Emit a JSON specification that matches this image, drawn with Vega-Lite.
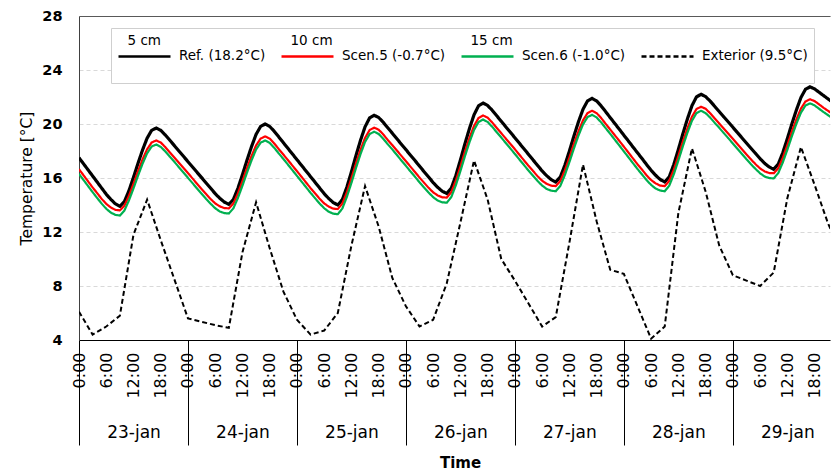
{
  "$schema": "https://vega.github.io/schema/vega-lite/v6.json",
  "width": 751,
  "height": 324,
  "autosize": {"type": "none"},
  "padding": {"left": 79, "top": 16, "right": 1, "bottom": 130},
  "background": "white",
  "config": {"font": "DejaVu Sans", "view": {"stroke": null}},
  "datasets": {
    "inner": [
      {"h":0,"Ref":17.5,"Scen5":16.65,"Scen6":16.3},
      {"h":1,"Ref":17.05,"Scen5":16.2,"Scen6":15.85},
      {"h":2,"Ref":16.6,"Scen5":15.75,"Scen6":15.4},
      {"h":3,"Ref":16.15,"Scen5":15.3,"Scen6":14.95},
      {"h":4,"Ref":15.7,"Scen5":14.88,"Scen6":14.52},
      {"h":5,"Ref":15.25,"Scen5":14.45,"Scen6":14.1},
      {"h":6,"Ref":14.8,"Scen5":14.08,"Scen6":13.72},
      {"h":7,"Ref":14.42,"Scen5":13.82,"Scen6":13.44},
      {"h":8,"Ref":14.09,"Scen5":13.64,"Scen6":13.27},
      {"h":9,"Ref":13.9,"Scen5":13.6,"Scen6":13.22},
      {"h":10,"Ref":14.25,"Scen5":13.95,"Scen6":13.59},
      {"h":11,"Ref":15.06,"Scen5":14.68,"Scen6":14.34},
      {"h":12,"Ref":16.05,"Scen5":15.57,"Scen6":15.23},
      {"h":13,"Ref":17.09,"Scen5":16.51,"Scen6":16.17},
      {"h":14,"Ref":18.08,"Scen5":17.38,"Scen6":17.06},
      {"h":15,"Ref":18.95,"Scen5":18.13,"Scen6":17.83},
      {"h":16,"Ref":19.53,"Scen5":18.63,"Scen6":18.33},
      {"h":17,"Ref":19.7,"Scen5":18.78,"Scen6":18.48},
      {"h":18,"Ref":19.53,"Scen5":18.63,"Scen6":18.31},
      {"h":19,"Ref":19.19,"Scen5":18.29,"Scen6":17.97},
      {"h":20,"Ref":18.8,"Scen5":17.9,"Scen6":17.58},
      {"h":21,"Ref":18.4,"Scen5":17.52,"Scen6":17.2},
      {"h":22,"Ref":18.0,"Scen5":17.13,"Scen6":16.8},
      {"h":23,"Ref":17.61,"Scen5":16.75,"Scen6":16.41},
      {"h":24,"Ref":17.21,"Scen5":16.36,"Scen6":16.01},
      {"h":25,"Ref":16.82,"Scen5":15.97,"Scen6":15.62},
      {"h":26,"Ref":16.42,"Scen5":15.57,"Scen6":15.22},
      {"h":27,"Ref":16.03,"Scen5":15.18,"Scen6":14.83},
      {"h":28,"Ref":15.63,"Scen5":14.81,"Scen6":14.45},
      {"h":29,"Ref":15.24,"Scen5":14.44,"Scen6":14.09},
      {"h":30,"Ref":14.84,"Scen5":14.12,"Scen6":13.76},
      {"h":31,"Ref":14.5,"Scen5":13.9,"Scen6":13.52},
      {"h":32,"Ref":14.22,"Scen5":13.77,"Scen6":13.4},
      {"h":33,"Ref":14.05,"Scen5":13.75,"Scen6":13.37},
      {"h":34,"Ref":14.41,"Scen5":14.11,"Scen6":13.75},
      {"h":35,"Ref":15.24,"Scen5":14.86,"Scen6":14.52},
      {"h":36,"Ref":16.25,"Scen5":15.77,"Scen6":15.43},
      {"h":37,"Ref":17.32,"Scen5":16.74,"Scen6":16.4},
      {"h":38,"Ref":18.33,"Scen5":17.63,"Scen6":17.31},
      {"h":39,"Ref":19.23,"Scen5":18.41,"Scen6":18.11},
      {"h":40,"Ref":19.82,"Scen5":18.92,"Scen6":18.62},
      {"h":41,"Ref":20.0,"Scen5":19.08,"Scen6":18.78},
      {"h":42,"Ref":19.82,"Scen5":18.92,"Scen6":18.6},
      {"h":43,"Ref":19.46,"Scen5":18.56,"Scen6":18.24},
      {"h":44,"Ref":19.04,"Scen5":18.14,"Scen6":17.82},
      {"h":45,"Ref":18.62,"Scen5":17.74,"Scen6":17.42},
      {"h":46,"Ref":18.2,"Scen5":17.33,"Scen6":17.0},
      {"h":47,"Ref":17.78,"Scen5":16.92,"Scen6":16.58},
      {"h":48,"Ref":17.36,"Scen5":16.51,"Scen6":16.16},
      {"h":49,"Ref":16.94,"Scen5":16.09,"Scen6":15.74},
      {"h":50,"Ref":16.52,"Scen5":15.67,"Scen6":15.32},
      {"h":51,"Ref":16.1,"Scen5":15.25,"Scen6":14.9},
      {"h":52,"Ref":15.68,"Scen5":14.86,"Scen6":14.5},
      {"h":53,"Ref":15.26,"Scen5":14.46,"Scen6":14.11},
      {"h":54,"Ref":14.84,"Scen5":14.12,"Scen6":13.76},
      {"h":55,"Ref":14.48,"Scen5":13.88,"Scen6":13.5},
      {"h":56,"Ref":14.18,"Scen5":13.73,"Scen6":13.36},
      {"h":57,"Ref":14.0,"Scen5":13.7,"Scen6":13.32},
      {"h":58,"Ref":14.4,"Scen5":14.1,"Scen6":13.74},
      {"h":59,"Ref":15.33,"Scen5":14.95,"Scen6":14.61},
      {"h":60,"Ref":16.46,"Scen5":15.98,"Scen6":15.64},
      {"h":61,"Ref":17.66,"Scen5":17.08,"Scen6":16.74},
      {"h":62,"Ref":18.79,"Scen5":18.09,"Scen6":17.77},
      {"h":63,"Ref":19.79,"Scen5":18.97,"Scen6":18.67},
      {"h":64,"Ref":20.45,"Scen5":19.55,"Scen6":19.25},
      {"h":65,"Ref":20.65,"Scen5":19.73,"Scen6":19.43},
      {"h":66,"Ref":20.48,"Scen5":19.58,"Scen6":19.26},
      {"h":67,"Ref":20.13,"Scen5":19.23,"Scen6":18.91},
      {"h":68,"Ref":19.72,"Scen5":18.82,"Scen6":18.5},
      {"h":69,"Ref":19.32,"Scen5":18.44,"Scen6":18.12},
      {"h":70,"Ref":18.91,"Scen5":18.04,"Scen6":17.71},
      {"h":71,"Ref":18.5,"Scen5":17.64,"Scen6":17.3},
      {"h":72,"Ref":18.1,"Scen5":17.25,"Scen6":16.9},
      {"h":73,"Ref":17.69,"Scen5":16.84,"Scen6":16.49},
      {"h":74,"Ref":17.29,"Scen5":16.44,"Scen6":16.09},
      {"h":75,"Ref":16.88,"Scen5":16.03,"Scen6":15.68},
      {"h":76,"Ref":16.47,"Scen5":15.65,"Scen6":15.29},
      {"h":77,"Ref":16.07,"Scen5":15.27,"Scen6":14.92},
      {"h":78,"Ref":15.66,"Scen5":14.94,"Scen6":14.58},
      {"h":79,"Ref":15.31,"Scen5":14.71,"Scen6":14.33},
      {"h":80,"Ref":15.02,"Scen5":14.57,"Scen6":14.2},
      {"h":81,"Ref":14.85,"Scen5":14.55,"Scen6":14.17},
      {"h":82,"Ref":15.25,"Scen5":14.95,"Scen6":14.59},
      {"h":83,"Ref":16.19,"Scen5":15.81,"Scen6":15.47},
      {"h":84,"Ref":17.33,"Scen5":16.85,"Scen6":16.51},
      {"h":85,"Ref":18.54,"Scen5":17.96,"Scen6":17.62},
      {"h":86,"Ref":19.67,"Scen5":18.97,"Scen6":18.65},
      {"h":87,"Ref":20.68,"Scen5":19.86,"Scen6":19.56},
      {"h":88,"Ref":21.35,"Scen5":20.45,"Scen6":20.15},
      {"h":89,"Ref":21.55,"Scen5":20.63,"Scen6":20.33},
      {"h":90,"Ref":21.37,"Scen5":20.47,"Scen6":20.15},
      {"h":91,"Ref":21.02,"Scen5":20.12,"Scen6":19.8},
      {"h":92,"Ref":20.61,"Scen5":19.71,"Scen6":19.39},
      {"h":93,"Ref":20.2,"Scen5":19.32,"Scen6":19.0},
      {"h":94,"Ref":19.79,"Scen5":18.92,"Scen6":18.59},
      {"h":95,"Ref":19.39,"Scen5":18.53,"Scen6":18.19},
      {"h":96,"Ref":18.98,"Scen5":18.13,"Scen6":17.78},
      {"h":97,"Ref":18.57,"Scen5":17.72,"Scen6":17.37},
      {"h":98,"Ref":18.16,"Scen5":17.31,"Scen6":16.96},
      {"h":99,"Ref":17.75,"Scen5":16.9,"Scen6":16.55},
      {"h":100,"Ref":17.34,"Scen5":16.52,"Scen6":16.16},
      {"h":101,"Ref":16.93,"Scen5":16.13,"Scen6":15.78},
      {"h":102,"Ref":16.52,"Scen5":15.8,"Scen6":15.44},
      {"h":103,"Ref":16.17,"Scen5":15.57,"Scen6":15.19},
      {"h":104,"Ref":15.88,"Scen5":15.43,"Scen6":15.06},
      {"h":105,"Ref":15.7,"Scen5":15.4,"Scen6":15.02},
      {"h":106,"Ref":16.07,"Scen5":15.77,"Scen6":15.41},
      {"h":107,"Ref":16.94,"Scen5":16.56,"Scen6":16.22},
      {"h":108,"Ref":17.99,"Scen5":17.51,"Scen6":17.17},
      {"h":109,"Ref":19.11,"Scen5":18.53,"Scen6":18.19},
      {"h":110,"Ref":20.16,"Scen5":19.46,"Scen6":19.14},
      {"h":111,"Ref":21.09,"Scen5":20.27,"Scen6":19.97},
      {"h":112,"Ref":21.71,"Scen5":20.81,"Scen6":20.51},
      {"h":113,"Ref":21.9,"Scen5":20.98,"Scen6":20.68},
      {"h":114,"Ref":21.71,"Scen5":20.81,"Scen6":20.49},
      {"h":115,"Ref":21.34,"Scen5":20.44,"Scen6":20.12},
      {"h":116,"Ref":20.91,"Scen5":20.01,"Scen6":19.69},
      {"h":117,"Ref":20.47,"Scen5":19.59,"Scen6":19.27},
      {"h":118,"Ref":20.04,"Scen5":19.17,"Scen6":18.84},
      {"h":119,"Ref":19.61,"Scen5":18.75,"Scen6":18.41},
      {"h":120,"Ref":19.17,"Scen5":18.32,"Scen6":17.97},
      {"h":121,"Ref":18.74,"Scen5":17.89,"Scen6":17.54},
      {"h":122,"Ref":18.3,"Scen5":17.45,"Scen6":17.1},
      {"h":123,"Ref":17.87,"Scen5":17.02,"Scen6":16.67},
      {"h":124,"Ref":17.44,"Scen5":16.62,"Scen6":16.26},
      {"h":125,"Ref":17.0,"Scen5":16.2,"Scen6":15.85},
      {"h":126,"Ref":16.57,"Scen5":15.85,"Scen6":15.49},
      {"h":127,"Ref":16.2,"Scen5":15.6,"Scen6":15.22},
      {"h":128,"Ref":15.89,"Scen5":15.44,"Scen6":15.07},
      {"h":129,"Ref":15.7,"Scen5":15.4,"Scen6":15.02},
      {"h":130,"Ref":16.09,"Scen5":15.79,"Scen6":15.43},
      {"h":131,"Ref":17.0,"Scen5":16.62,"Scen6":16.28},
      {"h":132,"Ref":18.11,"Scen5":17.63,"Scen6":17.29},
      {"h":133,"Ref":19.28,"Scen5":18.7,"Scen6":18.36},
      {"h":134,"Ref":20.38,"Scen5":19.68,"Scen6":19.36},
      {"h":135,"Ref":21.36,"Scen5":20.54,"Scen6":20.24},
      {"h":136,"Ref":22.01,"Scen5":21.11,"Scen6":20.81},
      {"h":137,"Ref":22.2,"Scen5":21.28,"Scen6":20.98},
      {"h":138,"Ref":22.03,"Scen5":21.13,"Scen6":20.81},
      {"h":139,"Ref":21.7,"Scen5":20.8,"Scen6":20.48},
      {"h":140,"Ref":21.31,"Scen5":20.41,"Scen6":20.09},
      {"h":141,"Ref":20.92,"Scen5":20.04,"Scen6":19.72},
      {"h":142,"Ref":20.53,"Scen5":19.66,"Scen6":19.33},
      {"h":143,"Ref":20.15,"Scen5":19.29,"Scen6":18.95},
      {"h":144,"Ref":19.76,"Scen5":18.91,"Scen6":18.56},
      {"h":145,"Ref":19.37,"Scen5":18.52,"Scen6":18.17},
      {"h":146,"Ref":18.98,"Scen5":18.13,"Scen6":17.78},
      {"h":147,"Ref":18.59,"Scen5":17.74,"Scen6":17.39},
      {"h":148,"Ref":18.2,"Scen5":17.38,"Scen6":17.02},
      {"h":149,"Ref":17.82,"Scen5":17.02,"Scen6":16.67},
      {"h":150,"Ref":17.43,"Scen5":16.71,"Scen6":16.35},
      {"h":151,"Ref":17.09,"Scen5":16.49,"Scen6":16.11},
      {"h":152,"Ref":16.82,"Scen5":16.37,"Scen6":16.0},
      {"h":153,"Ref":16.65,"Scen5":16.35,"Scen6":15.97},
      {"h":154,"Ref":17.02,"Scen5":16.72,"Scen6":16.36},
      {"h":155,"Ref":17.87,"Scen5":17.49,"Scen6":17.15},
      {"h":156,"Ref":18.91,"Scen5":18.43,"Scen6":18.09},
      {"h":157,"Ref":20.01,"Scen5":19.43,"Scen6":19.09},
      {"h":158,"Ref":21.04,"Scen5":20.34,"Scen6":20.02},
      {"h":159,"Ref":21.96,"Scen5":21.14,"Scen6":20.84},
      {"h":160,"Ref":22.57,"Scen5":21.67,"Scen6":21.37},
      {"h":161,"Ref":22.75,"Scen5":21.83,"Scen6":21.53},
      {"h":162,"Ref":22.6,"Scen5":21.7,"Scen6":21.38},
      {"h":163,"Ref":22.35,"Scen5":21.45,"Scen6":21.13},
      {"h":164,"Ref":22.1,"Scen5":21.2,"Scen6":20.88},
      {"h":165,"Ref":21.85,"Scen5":20.97,"Scen6":20.65},
      {"h":166,"Ref":21.6,"Scen5":20.73,"Scen6":20.4}
    ],
    "ext": [
      {"h":0,"Exterior":6.1},{"h":3,"Exterior":4.4},{"h":6,"Exterior":5.0},{"h":9,"Exterior":5.8},
      {"h":12,"Exterior":11.8},{"h":15,"Exterior":14.4},{"h":18,"Exterior":11.4},{"h":21,"Exterior":8.5},
      {"h":24,"Exterior":5.6},{"h":27,"Exterior":5.35},{"h":30,"Exterior":5.1},{"h":33,"Exterior":4.9},
      {"h":36,"Exterior":10.5},{"h":39,"Exterior":14.2},{"h":42,"Exterior":10.8},{"h":45,"Exterior":7.6},
      {"h":48,"Exterior":5.5},{"h":51,"Exterior":4.4},{"h":54,"Exterior":4.7},{"h":57,"Exterior":6.0},
      {"h":60,"Exterior":11.0},{"h":63,"Exterior":15.4},{"h":66,"Exterior":12.4},{"h":69,"Exterior":8.6},
      {"h":72,"Exterior":6.5},{"h":75,"Exterior":5.0},{"h":78,"Exterior":5.5},{"h":81,"Exterior":8.2},
      {"h":84,"Exterior":12.7},{"h":87,"Exterior":17.3},{"h":90,"Exterior":14.4},{"h":93,"Exterior":10.0},
      {"h":96,"Exterior":8.4},{"h":99,"Exterior":6.7},{"h":102,"Exterior":5.0},{"h":105,"Exterior":5.7},
      {"h":108,"Exterior":11.2},{"h":111,"Exterior":17.0},{"h":114,"Exterior":12.8},{"h":117,"Exterior":9.2},
      {"h":120,"Exterior":8.9},{"h":123,"Exterior":6.5},{"h":126,"Exterior":4.1},{"h":129,"Exterior":5.0},
      {"h":132,"Exterior":13.4},{"h":135,"Exterior":18.2},{"h":138,"Exterior":15.0},{"h":141,"Exterior":11.0},
      {"h":144,"Exterior":8.8},{"h":147,"Exterior":8.4},{"h":150,"Exterior":8.0},{"h":153,"Exterior":9.0},
      {"h":156,"Exterior":14.5},{"h":159,"Exterior":18.3},{"h":162,"Exterior":15.5},{"h":165,"Exterior":12.6},
      {"h":168,"Exterior":10.5}
    ]
  },
  "encoding": {
    "y": {
      "field": "T", "type": "quantitative",
      "scale": {"domain": [4, 28], "nice": false, "zero": false},
      "axis": {
        "values": [4, 8, 12, 16, 20, 24, 28],
        "ticks": false,
        "labelFontSize": 14.5, "labelFontWeight": "bold", "labelColor": "#000", "labelPadding": 17,
        "domainColor": "#404040", "domainWidth": 1,
        "grid": true, "gridColor": "#d9d9d9", "gridDash": [4, 3], "gridWidth": 1,
        "title": "Temperature [°C]", "titleFontSize": 15.5, "titleFontWeight": "normal", "titleColor": "#000", "titlePadding": 7
      }
    },
    "color": {
      "field": "s", "type": "nominal",
      "scale": {"domain": ["Ref", "Scen5", "Scen6", "Exterior"], "range": ["#000000", "#ff0000", "#00b050", "#000000"]},
      "legend": {
        "title": null,
        "orient": "none", "legendX": 32, "legendY": 12,
        "direction": "horizontal", "columns": 4, "columnPadding": 10,
        "padding": 6, "strokeColor": "#cfcfcf", "fillColor": "#ffffff",
        "symbolType": "M-1.05,3.1L9.35,3.1M0,6.2", "symbolSize": 100, "symbolStrokeWidth": 2.5,
        "labelFontSize": 13.5, "labelColor": "#000", "labelBaseline": "middle",
        "labelOffset": -3, "labelLimit": 400,
        "labelExpr": "datum.label == 'Ref' ? ['5 cm', '\u200b\u00a0\u00a0\u00a0\u00a0\u00a0\u00a0\u00a0\u00a0\u00a0\u00a0\u00a0\u00a0Ref. (18.2°C)'] : datum.label == 'Scen5' ? ['10 cm', '\u200b\u00a0\u00a0\u00a0\u00a0\u00a0\u00a0\u00a0\u00a0\u00a0\u00a0\u00a0\u00a0Scen.5 (-0.7°C)'] : datum.label == 'Scen6' ? ['15 cm', '\u200b\u00a0\u00a0\u00a0\u00a0\u00a0\u00a0\u00a0\u00a0\u00a0\u00a0\u00a0\u00a0Scen.6 (-1.0°C)'] : ['', '\u200b\u00a0\u00a0\u00a0\u00a0\u00a0\u00a0\u00a0\u00a0\u00a0\u00a0\u00a0\u00a0Exterior (9.5°C)']"
      }
    },
    "strokeDash": {
      "field": "s", "type": "nominal",
      "scale": {"domain": ["Ref", "Scen5", "Scen6", "Exterior"], "range": [[1, 0], [1, 0], [1, 0], [5, 3]]}
    }
  },
  "layer": [
    {
      "data": {"name": "inner"},
      "transform": [{"fold": ["Ref"], "as": ["s", "T"]}],
      "mark": {"type": "line", "strokeWidth": 3.2, "clip": true},
      "encoding": {
        "x": {
          "field": "h", "type": "quantitative",
          "scale": {"domain": [0, 165.4], "nice": false, "zero": false},
          "axis": {
            "orient": "bottom",
            "values": [0, 6, 12, 18, 24, 30, 36, 42, 48, 54, 60, 66, 72, 78, 84, 90, 96, 102, 108, 114, 120, 126, 132, 138, 144, 150, 156, 162],
            "labelExpr": "(datum.value % 24) + ':00'",
            "labelAngle": -90, "labelFontSize": 16, "labelColor": "#000", "labelPadding": 12,
            "labelFlush": false, "labelOverlap": false,
            "ticks": false, "grid": false,
            "domain": true, "domainColor": "#000", "domainWidth": 1,
            "title": null
          }
        }
      }
    },
    {
      "data": {"name": "inner"},
      "transform": [{"fold": ["Scen5"], "as": ["s", "T"]}],
      "mark": {"type": "line", "strokeWidth": 2.2, "clip": true},
      "encoding": {
        "x": {
          "field": "h", "type": "quantitative",
          "scale": {"domain": [0, 165.4], "nice": false, "zero": false},
          "axis": {
            "orient": "bottom",
            "values": [0, 24, 48, 72, 96, 120, 144],
            "labels": false, "ticks": true, "tickSize": 105, "tickColor": "#000", "tickWidth": 1,
            "domain": false, "grid": false, "title": null
          }
        }
      }
    },
    {
      "data": {"name": "inner"},
      "transform": [{"fold": ["Scen6"], "as": ["s", "T"]}],
      "mark": {"type": "line", "strokeWidth": 2.2, "clip": true},
      "encoding": {
        "x": {
          "field": "h", "type": "quantitative",
          "scale": {"domain": [0, 165.4], "nice": false, "zero": false},
          "axis": {
            "orient": "top",
            "labels": false, "ticks": false, "grid": false,
            "domain": true, "domainColor": "#595959", "domainWidth": 1,
            "title": null
          }
        }
      }
    },
    {
      "data": {"name": "ext"},
      "transform": [{"fold": ["Exterior"], "as": ["s", "T"]}],
      "mark": {"type": "line", "strokeWidth": 2, "clip": true},
      "encoding": {
        "x": {
          "field": "h", "type": "quantitative",
          "scale": {"domain": [0, 165.4], "nice": false, "zero": false},
          "axis": {
            "orient": "bottom",
            "values": [12, 36, 60, 84, 108, 132, 156],
            "labelExpr": "(23 + floor(datum.value / 24)) + '-jan'",
            "labelAngle": 0, "labelFontSize": 17, "labelColor": "#000", "labelPadding": 84,
            "labelFlush": false, "labelOverlap": false,
            "ticks": false, "domain": false, "grid": false,
            "title": "Time", "titleFontSize": 15, "titleFontWeight": "bold", "titleColor": "#000",
            "titlePadding": 15, "titleX": 381
          }
        }
      }
    }
  ],
  "resolve": {"axis": {"x": "independent"}}
}
